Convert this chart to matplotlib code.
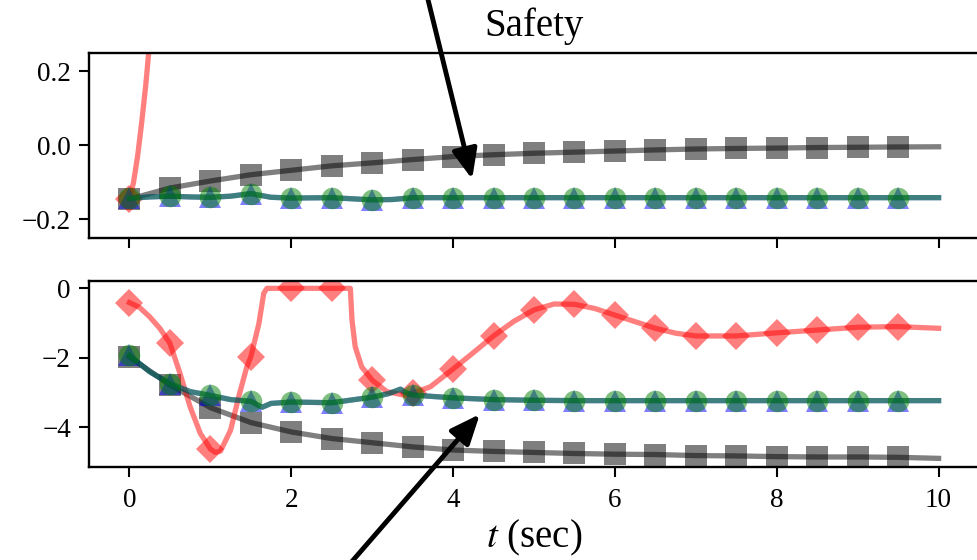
import numpy as np
import matplotlib
matplotlib.use("Agg")
import matplotlib.pyplot as plt

plt.rcParams["font.family"] = ["Liberation Serif", "DejaVu Serif"]
plt.rcParams["mathtext.fontset"] = "stix"

# ---------------- safety signal (top panel) ----------------
t_half = [0.0, 0.5, 1.0, 1.5, 2.0, 2.5, 3.0, 3.5, 4.0, 4.5, 5.0,
          5.5, 6.0, 6.5, 7.0, 7.5, 8.0, 8.5, 9.0, 9.5, 10.0]

top_black = [-0.145, -0.115, -0.096, -0.079, -0.067, -0.055, -0.047, -0.038,
             -0.030, -0.025, -0.021, -0.018, -0.015, -0.012, -0.0095, -0.008,
             -0.007, -0.0055, -0.0048, -0.004, -0.0035]

t_top_red = [0.0, 0.05, 0.1, 0.15, 0.2, 0.25, 0.3]
top_red = [-0.145, -0.10, -0.03, 0.06, 0.16, 0.28, 0.42]

t_top_mix = [0.0, 0.25, 0.5, 0.75, 1.0, 1.25, 1.5, 1.75, 2.0, 2.5, 3.0, 3.25,
             3.5, 4.0, 4.5, 5.0, 5.5, 6.0, 6.5, 7.0, 7.5, 8.0, 8.5, 9.0, 9.5, 10.0]
top_green = [-0.143, -0.139, -0.137, -0.139, -0.140, -0.137, -0.130, -0.140,
             -0.142, -0.141, -0.147, -0.146, -0.141, -0.141, -0.141, -0.141,
             -0.141, -0.141, -0.141, -0.141, -0.141, -0.141, -0.141, -0.141,
             -0.141, -0.141]
top_blue = [-0.143, -0.139, -0.137, -0.139, -0.140, -0.137, -0.130, -0.140,
            -0.142, -0.141, -0.147, -0.146, -0.141, -0.141, -0.141, -0.141,
            -0.141, -0.141, -0.141, -0.141, -0.141, -0.141, -0.141, -0.141,
            -0.141, -0.141]

# ---------------- bottom panel ----------------
bot_black = [-1.97, -2.78, -3.43, -3.86, -4.13, -4.32, -4.44, -4.56, -4.65,
             -4.69, -4.72, -4.75, -4.77, -4.78, -4.81, -4.82, -4.84, -4.85,
             -4.85, -4.86, -4.89]

t_bot_red = [0.0, 0.125, 0.25, 0.375, 0.5, 0.625, 0.75, 0.875, 1.0, 1.06,
             1.125, 1.25, 1.35, 1.45, 1.5, 1.6, 1.66, 1.7, 2.0, 2.5, 2.73,
             2.75, 2.79, 2.87, 3.0, 3.18, 3.39, 3.5, 3.72, 4.0, 4.25, 4.5,
             4.75, 5.0, 5.25, 5.5, 5.75, 6.0, 6.25, 6.5, 6.75, 7.0, 7.5, 8.0,
             8.5, 9.0, 9.5, 10.0]
bot_red = [-0.41, -0.55, -0.82, -1.15, -1.58, -2.45, -3.41, -4.17, -4.62,
           -4.72, -4.68, -4.08, -3.12, -2.26, -1.97, -1.01, -0.14, 0.0, 0.0,
           0.0, 0.0, -0.91, -1.68, -2.26, -2.64, -2.97, -3.07, -3.02, -2.83,
           -2.32, -1.85, -1.37, -0.95, -0.62, -0.45, -0.46, -0.58, -0.77,
           -0.96, -1.15, -1.29, -1.37, -1.37, -1.28, -1.20, -1.12, -1.10,
           -1.15]

t_bot_mix = [0.0, 0.25, 0.5, 0.75, 1.0, 1.25, 1.5, 1.64, 1.75, 2.0, 2.5, 3.0,
             3.2, 3.35, 3.4, 3.5, 4.0, 4.5, 5.0, 5.5, 6.0, 6.5, 7.0, 7.5, 8.0,
             8.5, 9.0, 9.5, 10.0]
bot_green = [-1.93, -2.40, -2.74, -2.97, -3.08, -3.20, -3.25, -3.42, -3.31,
             -3.27, -3.29, -3.13, -3.03, -2.90, -2.98, -3.07, -3.15, -3.20,
             -3.22, -3.23, -3.23, -3.23, -3.23, -3.23, -3.23, -3.23, -3.23,
             -3.23, -3.23]
bot_blue = [-1.93, -2.40, -2.74, -2.97, -3.08, -3.20, -3.25, -3.42, -3.31,
            -3.27, -3.29, -3.13, -3.03, -2.90, -2.98, -3.07, -3.15, -3.20,
            -3.22, -3.23, -3.23, -3.23, -3.23, -3.23, -3.23, -3.23, -3.23,
            -3.23, -3.23]

x_ticks = [0, 2, 4, 6, 8, 10]
top_yticks = [-0.2, 0.0, 0.2]
bot_yticks = [-4, -2, 0]


def half_second_marks(ts):
    """Indices of samples lying on the 0.5 s marker grid (before t = 10)."""
    return [i for i, t in enumerate(ts)
            if abs(2 * t - round(2 * t)) < 1e-9 and t < 10]


style = dict(alpha=0.5, lw=3.8, mew=0, solid_joinstyle="round")


def draw(ax, black, t_red, red, t_mix, green, blue):
    ax.plot(t_half, black, color="k", marker="s", ms=16,
            markevery=half_second_marks(t_half), **style)
    ax.plot(t_red, red, color="r", marker="D", ms=14,
            markevery=half_second_marks(t_red), **style)
    ax.plot(t_mix, blue, color="b", marker="^", ms=15.5,
            markevery=half_second_marks(t_mix), **style)
    ax.plot(t_mix, green, color="g", marker="o", ms=15.5,
            markevery=half_second_marks(t_mix), **style)


fig = plt.figure(figsize=(9.77, 5.6), dpi=100)
ax1 = fig.add_axes([0.0911, 0.575, 0.911, 0.3304])
ax2 = fig.add_axes([0.0911, 0.1666, 0.911, 0.3322])

draw(ax1, top_black, t_top_red, top_red, t_top_mix, top_green, top_blue)
draw(ax2, bot_black, t_bot_red, bot_red, t_bot_mix, bot_green, bot_blue)

for ax in (ax1, ax2):
    ax.set_xlim(-0.5, 10.5)
    ax.set_xticks(x_ticks)
    for s in ax.spines.values():
        s.set_linewidth(1.7)
    ax.tick_params(axis="both", labelsize=19.5, length=7, width=1.5,
                   direction="out")
    ax.tick_params(axis="y", pad=6)
    ax.tick_params(axis="x", pad=8)

ax1.set_ylim(-0.25, 0.25)
ax1.set_yticks(top_yticks)
ax1.set_yticklabels(["0.2" if v > 0 else ("0.0" if v == 0 else "\u22120.2")
                     for v in top_yticks])
ax1.tick_params(axis="x", labelbottom=False)

ax2.set_ylim(-5.13, 0.22)
ax2.set_yticks(bot_yticks)

ax1.set_title("Safety", fontsize=28, pad=12)
ax2.set_xlabel("$t$ (sec)", fontsize=28, labelpad=4)

arrow = dict(arrowstyle="-|>,head_width=0.38,head_length=0.9",
             color="k", lw=3.5, mutation_scale=20, shrinkA=0, shrinkB=0)
ax1.annotate("", xy=(4.235, -0.091), xycoords="data",
             xytext=(419, 597), textcoords="figure pixels",
             arrowprops=arrow, annotation_clip=False)
ax2.annotate("", xy=(4.33, -3.62), xycoords="data",
             xytext=(322, -36), textcoords="figure pixels",
             arrowprops=arrow, annotation_clip=False)

fig.savefig("out.png", dpi=100)
